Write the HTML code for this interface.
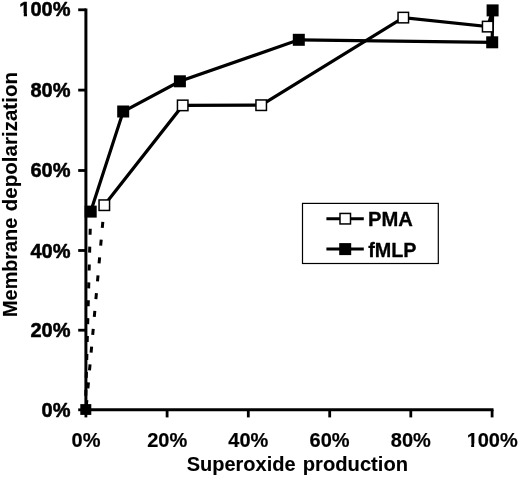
<!DOCTYPE html>
<html>
<head>
<meta charset="utf-8">
<title>Chart</title>
<style>
html,body{margin:0;padding:0;background:#fff;}
body{width:520px;height:477px;overflow:hidden;}
svg{display:block;will-change:transform;}
text{font-family:"Liberation Sans",Arial,Helvetica,sans-serif;font-weight:bold;fill:#000;stroke:#000;stroke-width:0.5px;stroke-linejoin:round;}
.lbl{font-size:20px;}
.ttl{font-size:20.2px;stroke-width:0.12px;}
.xl text{stroke-width:0.2px;}
</style>
</head>
<body>
<svg width="520" height="477" viewBox="0 0 520 477">
<rect x="0" y="0" width="520" height="477" fill="#fff"/>

<!-- axes -->
<g stroke="#000" stroke-width="3" fill="none" stroke-linecap="butt">
  <line x1="85.9" y1="8.4" x2="85.9" y2="411.2"/>
  <line x1="84.5" y1="409.8" x2="493.5" y2="409.8"/>
</g>
<!-- y ticks -->
<g stroke="#000" stroke-width="2.8" fill="none">
  <line x1="78.2" y1="9.8" x2="86" y2="9.8"/>
  <line x1="78.2" y1="90.1" x2="86" y2="90.1"/>
  <line x1="78.2" y1="170.5" x2="86" y2="170.5"/>
  <line x1="78.2" y1="250.5" x2="86" y2="250.5"/>
  <line x1="78.2" y1="330.2" x2="86" y2="330.2"/>
  <line x1="78.2" y1="409.8" x2="86" y2="409.8"/>
</g>
<!-- x ticks -->
<g stroke="#000" stroke-width="2.8" fill="none">
  <line x1="85.9" y1="409.8" x2="85.9" y2="417.4"/>
  <line x1="167.1" y1="409.8" x2="167.1" y2="417.4"/>
  <line x1="248.3" y1="409.8" x2="248.3" y2="417.4"/>
  <line x1="329.7" y1="409.8" x2="329.7" y2="417.4"/>
  <line x1="410.8" y1="409.8" x2="410.8" y2="417.4"/>
  <line x1="492.1" y1="409.8" x2="492.1" y2="417.4"/>
</g>

<!-- y labels -->
<g class="lbl" text-anchor="end">
  <text transform="translate(70.5,16.4) scale(1,1.035)">100%</text>
  <text transform="translate(70.5,96.9) scale(1,1.035)">80%</text>
  <text transform="translate(70.5,177.4) scale(1,1.035)">60%</text>
  <text transform="translate(70.5,257.5) scale(1,1.035)">40%</text>
  <text transform="translate(70.5,337.0) scale(1,1.035)">20%</text>
  <text transform="translate(70.5,416.8) scale(1,1.035)">0%</text>
</g>
<!-- x labels -->
<g class="lbl xl" text-anchor="middle">
  <text transform="translate(86.0,446.85) scale(1,1.04)">0%</text>
  <text transform="translate(167.2,446.85) scale(1,1.04)">20%</text>
  <text transform="translate(248.3,446.85) scale(1,1.04)">40%</text>
  <text transform="translate(329.6,446.85) scale(1,1.04)">60%</text>
  <text transform="translate(410.8,446.85) scale(1,1.04)">80%</text>
  <text transform="translate(492.2,446.85) scale(1,1.04)">100%</text>
</g>
<!-- trim the foot serif of the "1" glyph so it reads as a plain stroke like the reference -->
<g fill="#fff" stroke="none">
  <rect x="19.2" y="13.0" width="4.56" height="5.2"/>
  <rect x="27.01" y="13.0" width="3.8" height="5.2"/>
  <rect x="466.7" y="443.5" width="4.49" height="5"/>
  <rect x="474.13" y="443.5" width="3.9" height="5"/>
</g>
<!-- titles -->
<text class="ttl" transform="translate(186.7,471.2) scale(0.99,1)">Superoxide</text>
<text class="ttl" transform="translate(302.8,471.2) scale(0.999,1)">production</text>
<text class="ttl" transform="translate(17,316.9) rotate(-90) scale(0.982,1)">Membrane</text>
<text class="ttl" transform="translate(17,211.2) rotate(-90) scale(1.017,1)">depolarization</text>

<!-- dotted lines -->
<g stroke="#000" stroke-width="3" fill="none" stroke-dasharray="6 11.9">
  <line x1="90.7" y1="211.5" x2="85.4" y2="409.6" stroke-dashoffset="0.7"/>
  <line x1="104.3" y1="205.2" x2="86" y2="409.6" stroke-dashoffset="1.2"/>
</g>

<!-- series lines -->
<g stroke="#000" stroke-width="3.2" fill="none" stroke-linejoin="miter">
  <polyline points="90.7,211.5 123.2,111.5 179.9,81.3 298.8,39.8 492.2,42.3 492.6,10.4"/>
  <polyline points="104.3,205.2 182.7,105.4 261.2,105.2 403.3,17.6 487.7,26.6 492.6,10.4"/>
</g>

<!-- fMLP markers -->
<g fill="#000" stroke="none">
  <rect x="80.3" y="404.1" width="11" height="10.8"/>
  <rect x="84.7" y="205.6" width="12" height="12"/>
  <rect x="117.2" y="105.5" width="12" height="12"/>
  <rect x="173.9" y="75.3" width="12" height="12"/>
  <rect x="292.8" y="33.8" width="12" height="12"/>
  <rect x="486.2" y="36.3" width="12" height="12"/>
  <rect x="486.6" y="4.4" width="12" height="12"/>
</g>
<!-- PMA markers -->
<g fill="#fff" stroke="#000" stroke-width="1.5">
  <rect x="99.05" y="199.95" width="10.5" height="10.5"/>
  <rect x="177.45" y="100.15" width="10.5" height="10.5"/>
  <rect x="255.95" y="99.95" width="10.5" height="10.5"/>
  <rect x="398.05" y="12.35" width="10.5" height="10.5"/>
  <rect x="482.45" y="21.35" width="10.5" height="10.5"/>
</g>

<!-- legend -->
<rect x="302.5" y="203.4" width="135.8" height="60.1" fill="#fff" stroke="#000" stroke-width="1.2"/>
<g stroke="#000" stroke-width="3" fill="none">
  <line x1="326.4" y1="218.7" x2="363.8" y2="218.7"/>
  <line x1="326.4" y1="249.1" x2="363.8" y2="249.1"/>
</g>
<rect x="340.0" y="213.45" width="10.5" height="10.5" fill="#fff" stroke="#000" stroke-width="1.5"/>
<rect x="339.2" y="243.1" width="12" height="12" fill="#000"/>
<text class="lbl" x="368.0" y="226.4" style="font-size:20.2px;stroke-width:0.3px">PMA</text>
<text class="lbl" x="368.2" y="256.5" style="font-size:19.8px;stroke-width:0.3px">fMLP</text>
</svg>
</body>
</html>
